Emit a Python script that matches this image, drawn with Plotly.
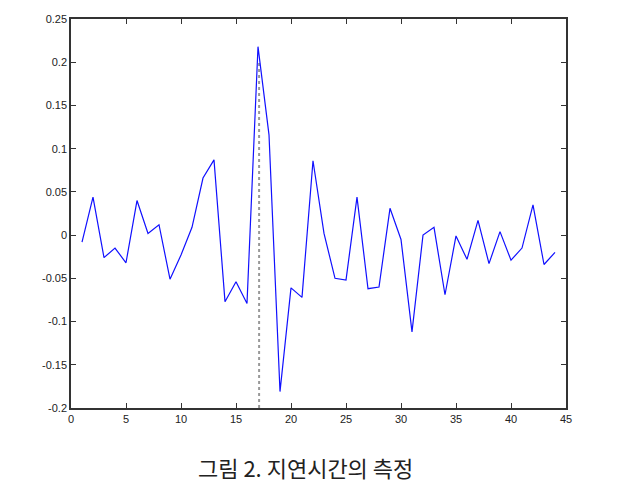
import plotly.graph_objects as go

x_vals = list(range(1, 45))
y_vals = [-0.008, 0.044, -0.026, -0.015, -0.032, 0.040, 0.002, 0.012, -0.051, -0.023,
          0.009, 0.066, 0.087, -0.077, -0.054, -0.079, 0.218, 0.116, -0.181, -0.061,
          -0.072, 0.086, 0.002, -0.050, -0.052, 0.044, -0.062, -0.060, 0.031, -0.005,
          -0.112, 0.000, 0.009, -0.069, -0.001, -0.028, 0.017, -0.033, 0.004, -0.029,
          -0.015, 0.035, -0.034, -0.020]
marker_x = [17.1, 17.1]
marker_y = [-0.2, 0.2]

x_range = [0, 45]
y_range = [-0.2, 0.25]
x_ticks = [0, 5, 10, 15, 20, 25, 30, 35, 40, 45]
y_ticks = [-0.2, -0.15, -0.1, -0.05, 0, 0.05, 0.1, 0.15, 0.2, 0.25]
y_ticklabels = ["-0.2", "-0.15", "-0.1", "-0.05", "0", "0.05", "0.1", "0.15", "0.2", "0.25"]
caption = "그림 2. 지연시간의 측정"

fig = go.Figure()
fig.add_trace(go.Scatter(x=marker_x, y=marker_y, mode="lines",
                         line=dict(color="#999999", width=2, dash="dot"),
                         showlegend=False, hoverinfo="skip"))
fig.add_trace(go.Scatter(x=x_vals, y=y_vals, mode="lines",
                         line=dict(color="#1010ff", width=1.2), showlegend=False))

axis_common = dict(showgrid=False, zeroline=False, showline=True, linecolor="#333333",
                   linewidth=1.5, mirror="all", ticks="inside", ticklen=5, tickwidth=1.2,
                   tickcolor="#333333",
                   tickfont=dict(family="Liberation Sans, Arial", size=11, color="#222"))
fig.update_xaxes(range=x_range, tickvals=x_ticks, ticktext=[str(v) for v in x_ticks], **axis_common)
fig.update_yaxes(range=y_range, tickvals=y_ticks, ticktext=y_ticklabels, **axis_common)

fig.add_annotation(text=caption, xref="paper", yref="paper", x=0.4737, y=-0.152,
                   xanchor="center", yanchor="middle", showarrow=False,
                   font=dict(family="Noto Sans CJK KR", size=22, color="#222"))

fig.update_layout(width=623, height=483, margin=dict(l=71, r=57, t=19, b=75),
                  paper_bgcolor="white", plot_bgcolor="white")
fig.write_html("out.html")
